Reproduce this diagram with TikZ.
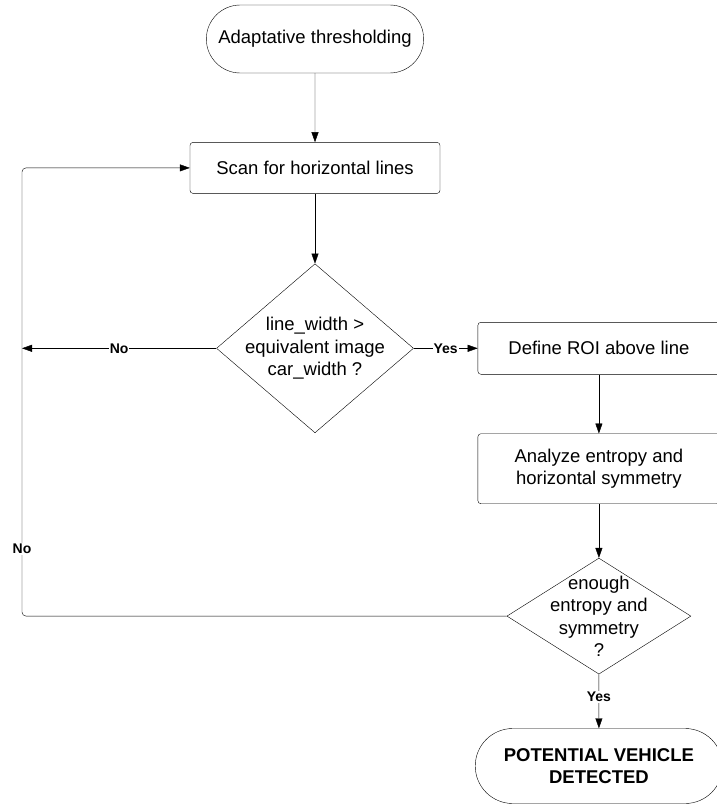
\documentclass[tikz,border=0pt]{standalone}
\usepackage{fontspec}
\setmainfont{Liberation Sans}
\usetikzlibrary{shapes,arrows.meta,calc,positioning}
\tikzset{
    -{Triangle[length=10pt,width=7pt]},line width=0.9pt,
    terminal/.style ={rounded rectangle, draw, align=center, font=\fontsize{18.5}{22.5}\selectfont},
    process/.style = {rectangle, draw, rounded corners=3pt, align=center, font=\fontsize{18.5}{22.5}\selectfont},
    decision/.style = {diamond, draw, inner sep=-20pt, align=center, font=\fontsize{18.5}{22.5}\selectfont},
    el/.style = {fill=white, inner sep=1pt, font=\fontsize{14}{16}\selectfont\bfseries}
}

\begin{document}
\begin{tikzpicture}[x=1pt,y=-1pt]
    \useasboundingbox (0,0) rectangle (716,805);
    \node (1) [terminal, minimum width=224pt, minimum height=68pt] at (315,39) {Adaptative thresholding};
    \node (2) [process, minimum width=250pt, minimum height=51pt, below = 69pt of 1] {Scan for horizontal lines};
    \node (3) [decision, minimum width=197pt, minimum height=169pt, below = 70pt of 2] {line\_width >\\equivalent image\\car\_width ?};
    \node (4) [process, minimum width=242pt, minimum height=52pt, right = 64pt of 3] {Define ROI above line};
    \node (5) [process, minimum width=242pt, minimum height=70pt, below = 59pt of 4] {Analyze entropy and\\horizontal symmetry};
    \node (6) [decision, minimum width=184pt, minimum height=116pt, below = 54pt of 5] {enough\\entropy and\\symmetry\\?};
    \node (7) [terminal, minimum width=254pt, minimum height=75pt, below = 54pt of 6, font=\fontsize{18.5}{22.5}\selectfont\bfseries] {POTENTIAL VEHICLE\\DETECTED};
    \coordinate (lt) at (22,0 |- 2);

    \path (1) edge (2);
    \path (2) edge (3);
    \path (3) edge node[el] {No} (lt |- 3);
    \path (3) edge node[el] {Yes} (4);
    \path (4) edge (5);
    \path (5) edge (6);
    \path (6) edge node[el, pos=.42] {Yes} (7);
    \draw[rounded corners=4pt] (6) -- (lt |- 6) -- node[el, pos=.15] {No} (lt) -- (2);
\end{tikzpicture}
\end{document}
